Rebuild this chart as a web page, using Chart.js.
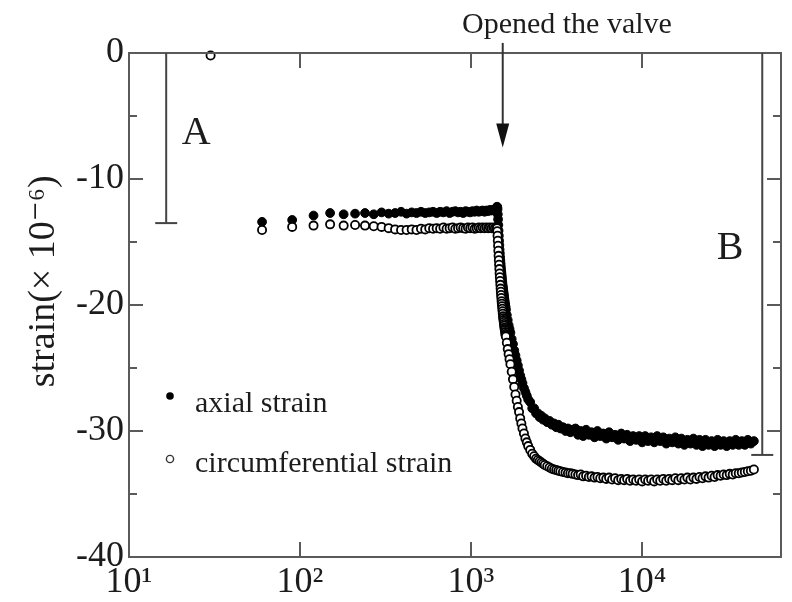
<!DOCTYPE html>
<html><head><meta charset="utf-8">
<script src="https://cdn.jsdelivr.net/npm/chart.js@4.4.1/dist/chart.umd.min.js"></script>
<style>html,body{margin:0;padding:0;background:#fff}#wrap{width:792px;height:602px}</style>
</head><body><div id="wrap"><canvas id="c" width="792" height="602"></canvas></div>
<script>
// ---- data (time in s, strain in 1e-6) ----
const timeSec = [30,60,90,120,150,180,210,240,270,300,330,360,390,420,450,480,510,540,570,600,630,660,690,720,750,780,810,840,870,900,930,960,990,1020,1050,1080,1110,1140,1170,1200,1230,1260,1290,1320,1350,1380,1410,
1420,1425,1430,1435,1440,1445,1450,1455,1460,1465,1470,1475,1480,1485,1490,1495,1500,1505,1510,1515,1520,1525,1530,1535,1540,1545,1550,1555,1560,1565,1570,1575,1580,1585,1590,1595,1600,
1620,1640,1660,1680,1700,
1730,1760,1790,1820,1850,1880,1910,1940,1970,2000,
2040,2080,2120,2160,
2220,2280,2340,2400,2460,2520,2580,2640,2700,
2790,2880,2970,3060,3150,3240,3330,
3450,3570,3690,3810,3930,
4080,4230,4380,4530,4710,4890,5070,5280,5490,5700,5940,6180,6420,6690,6960,7260,7560,7860,8190,8520,8880,9240,9630,10020,10440,10860,11310,11790,12270,12780,13320,13860,14430,15030,15660,16320,16980,17700,18420,19200,19980,20820,21690,22590,23520,24510,25530,26580,27690,28830,30030,31290,32580,33930,35340,36810,38340,39930,41580,43320,45120];

const axialStrain = [null,-13.4,-13.25,-12.9,-12.7,-12.8,-12.75,-12.7,-12.8,-12.65,-12.75,-12.7,-12.6,-12.75,-12.65,-12.7,-12.6,-12.7,-12.65,-12.6,-12.7,-12.6,-12.65,-12.55,-12.7,-12.6,-12.55,-12.65,-12.6,-12.7,-12.55,-12.6,-12.65,-12.55,-12.6,-12.5,-12.6,-12.55,-12.5,-12.6,-12.5,-12.55,-12.45,-12.5,-12.45,-12.4,-12.3,
-12.2,-12.25,-12.4,-12.8,-13.2,-13.65,-14.1,-14.5,-14.9,-15.25,-15.6,-15.9,-16.2,-16.45,-16.7,-16.95,-17.2,-17.4,-17.6,-17.8,-18.0,-18.2,-18.4,-18.55,-18.7,-18.85,-19.0,-19.15,-19.3,-19.45,-19.6,-19.75,-19.9,-20.0,-20.1,-20.25,-20.4,
-20.8,-21.2,-21.6,-21.9,-22.2,
-22.7,-23.1,-23.6,-24.0,-24.4,-24.8,-25.2,-25.6,-25.9,-26.2,
-26.6,-26.9,-27.2,-27.5,
-27.7,-28.2,-28.2,-28.6,-28.6,-28.9,-28.8,-29.1,-29.0,
-29.3,-29.2,-29.5,-29.4,-29.7,-29.5,-29.8,
-29.7,-30.0,-29.8,-30.1,-29.9,
-29.8,-30.3,-30.0,-30.4,-29.9,-30.3,-30.1,-30.5,-30.0,-30.4,-30.2,-30.6,-30.1,-30.5,-30.3,-30.7,-30.2,-30.6,-30.3,-30.8,-30.4,-30.7,-30.4,-30.9,-30.4,-30.8,-30.5,-30.9,-30.4,-30.8,-30.5,-31.0,-30.6,-30.9,-30.5,-31.0,-30.6,-31.1,-30.7,-31.0,-30.6,-31.1,-30.7,-31.2,-30.7,-31.1,-30.8,-31.2,-30.7,-31.1,-30.8,-31.2,-30.8,-31.1,-30.7,-31.1,-30.8,-31.1,-30.7,-31.0,-30.8];

const circStrain = [-0.2,-14.05,-13.8,-13.7,-13.6,-13.7,-13.65,-13.7,-13.75,-13.8,-13.9,-14.0,-14.05,-14.05,-14.0,-14.05,-13.95,-14.0,-13.9,-13.95,-13.9,-13.95,-13.85,-13.95,-13.9,-13.85,-13.95,-13.9,-13.85,-13.9,-13.95,-13.85,-13.9,-13.85,-13.95,-13.9,-13.85,-13.9,-13.85,-13.9,-13.85,-13.9,-13.85,-13.9,-13.85,-13.9,-13.9,
-13.9,-14.15,-14.5,-14.9,-15.3,-15.7,-16.1,-16.45,-16.8,-17.15,-17.5,-17.8,-18.1,-18.4,-18.7,-18.95,-19.2,-19.45,-19.7,-19.9,-20.1,-20.3,-20.5,-20.7,-20.9,-21.05,-21.2,-21.35,-21.5,-21.65,-21.8,-21.9,-22.0,-22.15,-22.3,-22.4,-22.5,
-23.0,-23.5,-23.9,-24.3,-24.7,
-25.3,-25.9,-26.5,-27.1,-27.6,-28.1,-28.5,-29.0,-29.4,-29.8,
-30.2,-30.6,-30.9,-31.2,
-31.5,-31.8,-32.0,-32.2,-32.3,-32.4,-32.5,-32.6,-32.7,
-32.8,-32.9,-33.0,-33.05,-33.1,-33.15,-33.2,
-33.25,-33.3,-33.35,-33.35,-33.4,
-33.45,-33.5,-33.45,-33.6,-33.55,-33.65,-33.6,-33.7,-33.65,-33.75,-33.7,-33.8,-33.7,-33.85,-33.75,-33.9,-33.8,-33.9,-33.8,-33.95,-33.85,-33.95,-33.85,-34.0,-33.85,-33.95,-33.85,-34.0,-33.85,-33.95,-33.8,-33.95,-33.8,-33.9,-33.75,-33.9,-33.75,-33.85,-33.7,-33.85,-33.7,-33.8,-33.65,-33.75,-33.6,-33.7,-33.55,-33.65,-33.5,-33.55,-33.45,-33.5,-33.4,-33.45,-33.35,-33.35,-33.3,-33.25,-33.2,-33.15,-33.05];

const seriesNames = ['axial strain', 'circumferential strain'];
const xTickValues = [10, 100, 1000, 10000];
const xTickLabels = ['10\u00B9', '10\u00B2', '10\u00B3', '10\u2074'];
const yTickValues = [0, -10, -20, -30, -40];
const yTickLabels = ['0', '-10', '-20', '-30', '-40'];
const yMinorTicks = [-5, -15, -25, -35];
const yTitle = '     strain(\u00D7 10\u207B\u2076)';
const noteText = 'Opened the valve';

// annotation anchors in data coordinates
const valveArrow = { x: 1533, from: 0.8, to: -7.5 };
const noteAnchor = { x: 3640, y: 1.6 };
const bracketA = { x: 16.5, top: 0, bottom: -13.5, label: 'A', lx: 24.7, ly: -6.4 };
const bracketB = { x: 50500, top: 0, bottom: -31.9, label: 'B', lx: 32800, ly: -15.5 };

const SERIF = '"Liberation Serif", "Times New Roman", "DejaVu Serif", serif';
const FRAME = '#5a5a5a';
const INK = '#1c1c1c';

const toPts = vals => timeSec.map((t, i) => ({ x: t, y: vals[i] })).filter(p => p.y !== null);

const decor = {
  id: 'decor',
  afterDraw(chart) {
    const { ctx, chartArea: a, scales: { x, y } } = chart;
    const seg = (x1, y1, x2, y2) => { ctx.beginPath(); ctx.moveTo(x1, y1); ctx.lineTo(x2, y2); ctx.stroke(); };
    ctx.save();
    ctx.strokeStyle = FRAME; ctx.lineWidth = 2;
    seg(a.left - 1, a.top, a.right + 1, a.top);
    seg(a.right, a.top, a.right, a.bottom + 1);
    xTickValues.forEach(v => {
      const p = x.getPixelForValue(v);
      if (p < a.left + 2) return;
      seg(p, a.bottom, p, a.bottom - 15);
      seg(p, a.top, p, a.top + 15);
    });
    yTickValues.forEach(v => {
      const p = y.getPixelForValue(v);
      if (p < a.top + 2 || p > a.bottom - 2) return;
      seg(a.left, p, a.left + 14, p);
      seg(a.right, p, a.right - 14, p);
    });
    yMinorTicks.forEach(v => {
      const p = y.getPixelForValue(v);
      seg(a.left, p, a.left + 8, p);
      seg(a.right, p, a.right - 8, p);
    });
    // brackets A and B
    ctx.strokeStyle = '#444';
    [bracketA, bracketB].forEach(b => {
      const px = x.getPixelForValue(b.x);
      const p0 = y.getPixelForValue(b.top), p1 = y.getPixelForValue(b.bottom);
      seg(px, p0, px, p1);
      seg(px - 11, p1, px + 11, p1);
    });
    ctx.fillStyle = INK;
    ctx.font = '40px ' + SERIF;
    ctx.textAlign = 'center'; ctx.textBaseline = 'middle';
    [bracketA, bracketB].forEach(b => ctx.fillText(b.label, x.getPixelForValue(b.lx), y.getPixelForValue(b.ly)));
    // arrow
    const ax = x.getPixelForValue(valveArrow.x);
    const ay0 = y.getPixelForValue(valveArrow.from), ay1 = y.getPixelForValue(valveArrow.to);
    ctx.strokeStyle = '#333'; ctx.lineWidth = 2;
    seg(ax, ay0, ax, ay1 - 20);
    ctx.fillStyle = '#111';
    ctx.beginPath(); ctx.moveTo(ax - 6.5, ay1 - 24); ctx.lineTo(ax + 6.5, ay1 - 24); ctx.lineTo(ax, ay1); ctx.closePath(); ctx.fill();
    // note
    ctx.fillStyle = INK;
    ctx.font = '30px ' + SERIF;
    ctx.textBaseline = 'alphabetic';
    ctx.fillText(noteText, x.getPixelForValue(noteAnchor.x), y.getPixelForValue(noteAnchor.y));
    // legend
    ctx.textAlign = 'left';
    ctx.font = '30px ' + SERIF;
    const lx = a.left + 41;
    ctx.fillStyle = '#000';
    ctx.beginPath(); ctx.arc(lx, a.top + 343, 3.8, 0, Math.PI * 2); ctx.fill();
    ctx.fillStyle = INK;
    ctx.fillText(seriesNames[0], a.left + 66, a.top + 359);
    ctx.strokeStyle = '#333'; ctx.lineWidth = 1.4; ctx.fillStyle = '#fff';
    ctx.beginPath(); ctx.arc(lx, a.top + 406, 3.6, 0, Math.PI * 2); ctx.fill(); ctx.stroke();
    ctx.fillStyle = INK;
    ctx.fillText(seriesNames[1], a.left + 66, a.top + 419);
    ctx.restore();
  }
};

new Chart(document.getElementById('c'), {
  type: 'scatter',
  data: {
    datasets: [
      { label: seriesNames[1], data: toPts(circStrain), order: 0, clip: 8,
        pointRadius: 4.1, pointBorderWidth: 1.8, pointBackgroundColor: '#fff', pointBorderColor: '#000', showLine: false },
      { label: seriesNames[0], data: toPts(axialStrain), order: 1, clip: 8,
        pointRadius: 4.4, pointBorderWidth: 1, pointBackgroundColor: '#000', pointBorderColor: '#000', showLine: false }
    ]
  },
  options: {
    responsive: false, animation: false, devicePixelRatio: 1,
    layout: { padding: { top: 53, right: 11, left: 0, bottom: 0 } },
    plugins: { legend: { display: false }, tooltip: { enabled: false } },
    scales: {
      x: {
        type: 'logarithmic', min: 10, max: 65000, position: 'bottom',
        afterFit: s => { s.height = 45; },
        afterBuildTicks: s => { s.ticks = xTickValues.map(v => ({ value: v, major: true })); },
        grid: { display: false, drawTicks: false },
        border: { display: true, color: FRAME, width: 2 },
        ticks: { autoSkip: false, maxRotation: 0, padding: 4, color: INK,
          font: { family: SERIF, size: 36 },
          callback: (v) => xTickLabels[xTickValues.indexOf(v)] }
      },
      y: {
        type: 'linear', min: -40, max: 0, position: 'left',
        afterFit: s => { s.width = 129; },
        afterBuildTicks: s => { s.ticks = yTickValues.map(v => ({ value: v })); },
        grid: { display: false, drawTicks: false },
        border: { display: true, color: FRAME, width: 2 },
        ticks: { autoSkip: false, padding: 5, color: INK,
          font: { family: SERIF, size: 36 },
          callback: (v) => yTickLabels[yTickValues.indexOf(v)] },
        title: { display: true, text: yTitle, color: INK, padding: { top: 21, bottom: 0 },
          font: { family: SERIF, size: 38 } }
      }
    }
  },
  plugins: [decor]
});
</script>
</body></html>
